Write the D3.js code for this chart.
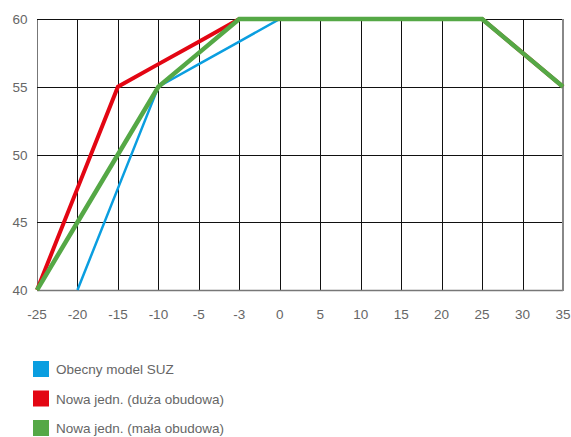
<!DOCTYPE html>
<html><head><meta charset="utf-8">
<script src="https://cdn.jsdelivr.net/npm/d3@7"></script>
<style>body{margin:0;background:#fff;} svg{display:block;}</style>
</head><body>
<svg id="c" width="571" height="437"></svg>
<script>
const categories = ["-25","-20","-15","-10","-5","-3","0","5","10","15","20","25","30","35"];
const yTicks = [40,45,50,55,60];
const seriesNames = ["Obecny model SUZ","Nowa jedn. (duża obudowa)","Nowa jedn. (mała obudowa)"];
const seriesColors = ["#0a9ee0","#e30613","#55a846"];
const blueValues  = [null,40,47.5,55,56.67,58.33,60,60,60,60,60,60,57.5,55];
const redValues   = [40,47.5,55,56.67,58.33,60,60,60,60,60,60,60,57.5,55];
const greenValues = [40,45,50,55,57.5,60,60,60,60,60,60,60,57.5,55];
const seriesValues = [blueValues, redValues, greenValues];
const seriesWidths = [2.5, 4, 4.5];

const svg = d3.select("#c");
const m = {l:37, r:563, t:19, b:290};
const x = d3.scalePoint().domain(categories).range([m.l, m.r]);
const y = d3.scaleLinear().domain([40,60]).range([m.b, m.t]);
const FONT = "Liberation Sans, Arial, sans-serif";

const g = svg.append("g");
g.selectAll(".vg").data(categories).enter().append("line")
  .attr("x1", d=>Math.round(x(d))+0.5).attr("x2", d=>Math.round(x(d))+0.5)
  .attr("y1", m.t).attr("y2", m.b)
  .attr("stroke", (d,i)=> (i===0) ? "#777" : "#111").attr("stroke-width", 1);
g.selectAll(".hg").data(yTicks).enter().append("line")
  .attr("x1", m.l).attr("x2", m.r)
  .attr("y1", d=>Math.round(y(d))+0.5).attr("y2", d=>Math.round(y(d))+0.5)
  .attr("stroke", d=> d===40 ? "#777" : "#111").attr("stroke-width", d=> d===40 ? 1.6 : 1);
g.append("line").attr("x1", m.r).attr("x2", m.r).attr("y1", m.t).attr("y2", m.b+1)
  .attr("stroke", "#888").attr("stroke-width", 2);

svg.selectAll(".yl").data(yTicks).enter().append("text")
  .attr("x", 27.5).attr("y", d=>y(d)+5)
  .attr("text-anchor","end").attr("font-family",FONT)
  .attr("font-size", 13.5).attr("fill","#666").text(d=>d);
svg.selectAll(".xl").data(categories).enter().append("text")
  .attr("x", d=>x(d)).attr("y", 318.5)
  .attr("text-anchor","middle").attr("font-family",FONT)
  .attr("font-size", 13.5).attr("fill","#666").text(d=>d);

const line = d3.line().defined(d=>d.v!==null).x(d=>x(d.c)).y(d=>y(d.v));
seriesValues.forEach((vals,i)=>{
  svg.append("path")
    .datum(vals.map((v,j)=>({c:categories[j], v})))
    .attr("d", line).attr("fill","none")
    .attr("stroke", seriesColors[i]).attr("stroke-width", seriesWidths[i])
    .attr("stroke-linejoin","miter").attr("stroke-linecap","butt");
});

const lg = svg.selectAll(".lg").data(seriesNames).enter().append("g")
  .attr("transform",(d,i)=>`translate(33,${361 + i*29.5})`);
lg.append("rect").attr("width",16).attr("height",16).attr("fill",(d,i)=>seriesColors[i]);
lg.append("text").attr("x",23).attr("y",13)
  .attr("font-family",FONT).attr("font-size",13.5)
  .attr("fill","#666").text(d=>d);
</script>
</body></html>
